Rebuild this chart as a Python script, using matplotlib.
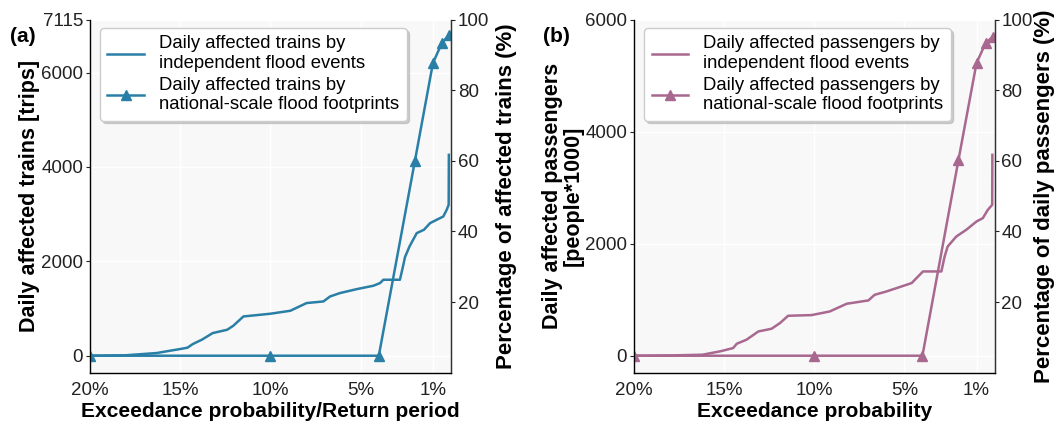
import matplotlib.pyplot as plt
import numpy as np

plt.rcParams['font.family'] = ['Liberation Sans', 'DejaVu Sans']

# exceedance probability (%) and daily affected trains, independent events
ep_trains = [20, 18, 16.3, 15.5, 15.0, 14.6, 14.3, 13.8, 13.2, 12.4, 12.06, 11.5,
             10.0, 8.9, 8.0, 7.07, 6.7, 6.15, 5.2, 4.3, 3.93, 3.75, 2.83, 2.64,
             2.55, 2.3, 1.9, 1.5, 1.16, 0.8, 0.43, 0.24, 0.13, 0.12]
trains = [0, 10, 57, 110, 142, 170, 248, 340, 480, 550, 635, 832,
          890, 953, 1116, 1150, 1256, 1328, 1413, 1483, 1540, 1610, 1610, 1927,
          2090, 2315, 2598, 2669, 2810, 2880, 2950, 3092, 3198, 4257]

# national-scale flood footprints
ep_nat = [20, 10, 4, 2, 1, 0.5, 0.1]
trains_nat = [0, 0, 0, 4130, 6206, 6630, 6800]

# passengers (people*1000), independent events
ep_pass = [20, 18, 16.2, 15.2, 14.5, 14.3, 13.76, 13.1, 12.37, 11.9, 11.45,
           10.15, 9.14, 8.2, 7.0, 6.65, 6.0, 5.26, 4.6, 3.97, 2.95, 2.77,
           2.6, 2.12, 1.57, 1.0, 0.65, 0.37, 0.13, 0.12]
passengers = [0, 5, 18, 80, 137, 214, 286, 434, 482, 584, 714,
              726, 791, 929, 988, 1089, 1148, 1227, 1298, 1506, 1506, 1773,
              1952, 2131, 2250, 2399, 2459, 2608, 2697, 3590]
pass_nat = [0, 0, 0, 3500, 5230, 5585, 5700]

xticks = [20, 15, 10, 5, 1]
xticklabels = ['20%', '15%', '10%', '5%', '1%']

blue = '#2a7fa6'
mauve = '#a8688f'

fig = plt.figure(figsize=(10.56, 4.21), dpi=100)


def make_panel(rect, x1, y1, x2, y2, color, ymax, yticks, ylabel, rlabel,
               xlabel, leg1, leg2, tag, tag_x, rpad):
    ax = fig.add_axes(rect)
    ax.set_facecolor('#f8f8f8')
    ax.grid(True, color='white', linewidth=1.0)
    ax.set_axisbelow(True)
    l1, = ax.plot(x1, y1, color=color, lw=1.8, label=leg1)
    l2, = ax.plot(x2, y2, color=color, lw=1.8, marker='^', ms=7, label=leg2)
    ax.set_xlim(20, 0)
    ax.set_ylim(-0.05 * ymax, ymax)
    ax.set_xticks(xticks)
    ax.set_xticklabels(xticklabels)
    ax.set_yticks(yticks)
    ax.tick_params(axis='both', labelsize=13.5, colors='#222222', length=3,
                   width=0.8, pad=2)
    ax.tick_params(axis='x', length=0, pad=7)
    for s in ['left', 'bottom', 'right']:
        ax.spines[s].set_color('#333333')
        ax.spines[s].set_linewidth(1.0)
    ax.spines['top'].set_visible(False)
    ax.set_xlabel(xlabel, fontsize=15.1, fontweight='bold', labelpad=2)
    ax.set_ylabel(ylabel, fontsize=15.5, fontweight='bold', labelpad=1,
                  linespacing=1.0)

    ax2 = ax.twinx()
    ax2.set_ylim(0, 100)
    ax2.set_yticks([20, 40, 60, 80, 100])
    ax2.tick_params(axis='y', labelsize=13.5, colors='#222222', length=3,
                    width=0.8, pad=2)
    ax2.spines['top'].set_visible(False)
    ax2.spines['right'].set_color('#333333')
    ax2.set_ylabel(rlabel, fontsize=16, fontweight='bold', labelpad=rpad)

    leg = ax.legend(handles=[l1, l2], loc='upper left',
                    bbox_to_anchor=(0.028, 0.977), borderaxespad=0,
                    fontsize=13.3, shadow={'color': '0.65', 'alpha': 0.5},
                    framealpha=1, edgecolor='#cccccc', labelspacing=0.25,
                    handlelength=2.0, borderpad=0.4, handletextpad=0.8)
    leg.get_frame().set_facecolor('white')
    fig.text(tag_x, 0.9, tag, fontsize=15, fontweight='bold')
    return ax


make_panel([0.0852, 0.1152, 0.3419, 0.8373], ep_trains, trains, ep_nat,
           trains_nat, blue, 7115, [0, 2000, 4000, 6000, 7115],
           'Daily affected trains [trips]',
           'Percentage of affected trains (%)',
           'Exceedance probability/Return period',
           'Daily affected trains by\nindependent flood events',
           'Daily affected trains by\nnational-scale flood footprints', '(a)',
           0.0095, 5)

make_panel([0.6004, 0.1152, 0.3414, 0.8373], ep_pass, passengers, ep_nat,
           pass_nat, mauve, 6000, [0, 2000, 4000, 6000],
           'Daily affected passengers\n[people*1000]',
           'Percentage of daily passengers (%)',
           'Exceedance probability',
           'Daily affected passengers by\nindependent flood events',
           'Daily affected passengers by\nnational-scale flood footprints', '(b)',
           0.514, 1)

fig.savefig('out.png', dpi=100)
